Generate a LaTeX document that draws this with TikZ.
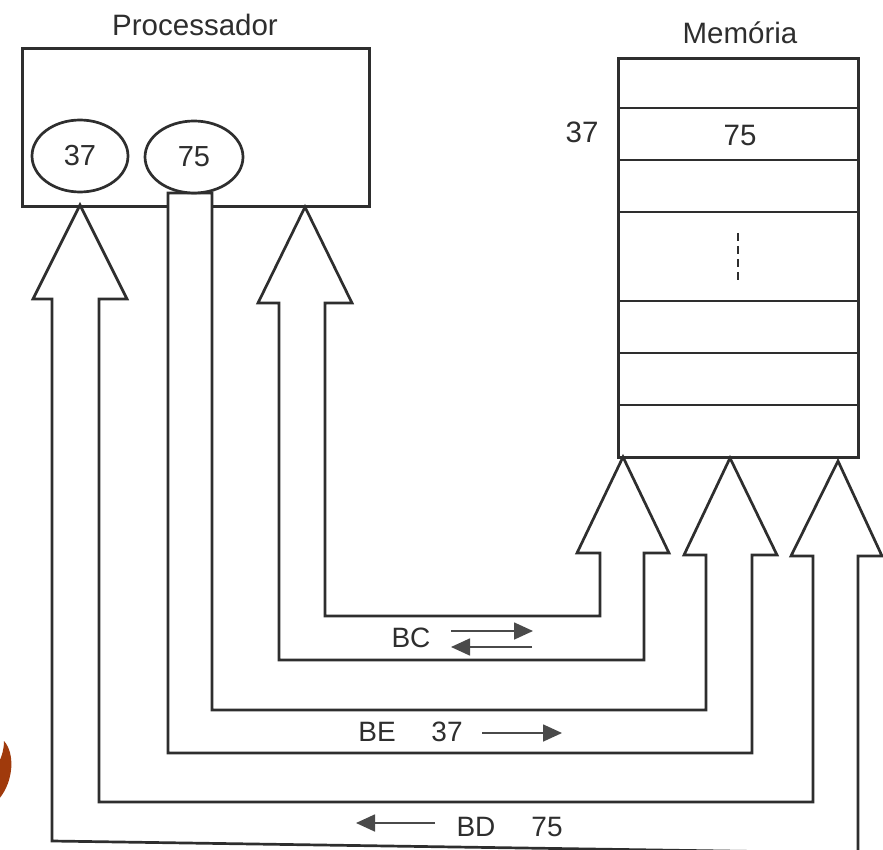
\documentclass[tikz,border=0pt]{standalone}
\usepackage{fontspec}
\setmainfont{Liberation Sans}
\usetikzlibrary{arrows.meta,shapes.geometric}
\definecolor{ink}{HTML}{2E2E2E}
\definecolor{arr}{HTML}{4A4A4A}
\definecolor{rust}{HTML}{A03A0C}
\begin{document}
\begin{tikzpicture}[x=1pt,y=-1pt,
  box/.style={draw=ink,line width=2.8pt,inner sep=0pt},
  rowline/.style={draw=ink,line width=2.8pt},
  bus/.style={draw=ink,fill=white,line width=2.7pt,line join=miter},
  reg/.style={draw=ink,fill=white,line width=2.7pt,ellipse,inner sep=0pt,minimum width=96pt,minimum height=72pt,font=\fontsize{29}{34}\selectfont,text=ink},
  lbl/.style={font=\fontsize{29.5}{34}\selectfont,text=ink,inner sep=0pt},
  buslbl/.style={font=\fontsize{28}{32}\selectfont,text=ink,inner sep=0pt},
  sarr/.style={draw=arr,line width=1.7pt,-{Triangle[length=19pt,width=17pt]}}]
\useasboundingbox (0,0) rectangle (883,850);
\clip (0,0) rectangle (883,850);
% decoration at left edge
\fill[rust] (4,741) .. controls (15,753) and (14,781) .. (-1,799) -- (-1,762) .. controls (2,756) and (4,749) .. (4,741) -- cycle;
% boxes
\node[box,anchor=north west,minimum width=347pt,minimum height=158pt] (proc) at (21,47) {};
\node[box,anchor=north west,minimum width=240pt,minimum height=399pt] (mem) at (617,57) {};
\foreach \yy in {108,160,212,301,353,405}
  \draw[rowline] (617,\yy) -- (857,\yy);
\draw[draw=ink,line width=2.6pt,dash pattern=on 8pt off 5pt] (738,233) -- (738,281);
% bus BD (outermost)
\draw[bus] (99,299) -- (99,802) -- (813,802) -- (813,556) -- (791,556) -- (838,461) -- (882,556) -- (858,556)
  -- (858,853) -- (52,841) -- (52,299) -- (33,299) -- (80,205) -- (127,299) -- cycle;
% bus BE
\draw[bus] (212,193) -- (212,710) -- (706,710) -- (706,555) -- (684,555) -- (730,458) -- (777,555) -- (752,555)
  -- (752,753) -- (168,753) -- (168,193) -- cycle;
% bus BC
\draw[bus] (325,303) -- (325,616) -- (600,616) -- (600,553) -- (577,553) -- (623,457) -- (669,553) -- (644,553)
  -- (644,660) -- (279,660) -- (279,303) -- (258,303) -- (305,207) -- (352,303) -- cycle;
% registers
\node[reg] (r37) at (80,156) {37};
\node[reg,minimum width=98pt] (r75) at (194,157) {75};
% titles and memory texts
\node[lbl] (tproc) at (195,25) {Processador};
\node[lbl] (tmem) at (740,33) {Memória};
\node[lbl] (addr) at (582,132) {37};
\node[lbl] (val) at (740,135) {75};
% bus labels
\node[buslbl] (bc) at (411,638) {BC};
\node[buslbl] (be) at (377,732) {BE};
\node[buslbl] (be37) at (447,732) {37};
\node[buslbl] (bd) at (476,827) {BD};
\node[buslbl] (bd75) at (547,827) {75};
% small direction arrows
\coordinate (bc1a) at (451,631); \coordinate (bc1b) at (533,631);
\coordinate (bc2a) at (532,647); \coordinate (bc2b) at (451,647);
\coordinate (bea) at (482,733); \coordinate (beb) at (562,733);
\coordinate (bda) at (435,823); \coordinate (bdb) at (356,823);
\draw[sarr] (bc1a) -- (bc1b);
\draw[sarr] (bc2a) -- (bc2b);
\draw[sarr] (bea) -- (beb);
\draw[sarr] (bda) -- (bdb);
\end{tikzpicture}
\end{document}
